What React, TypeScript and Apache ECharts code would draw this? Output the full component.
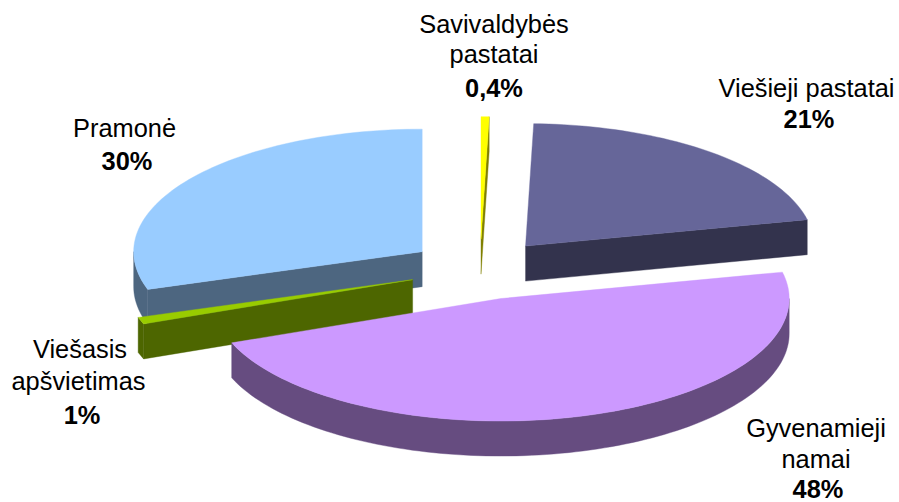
import React, { useEffect, useRef } from "react";
import * as echarts from "echarts";

// Slice order clockwise from 12 o'clock, as in the source chart
const categories = ["Savivaldybės pastatai", "Viešieji pastatai", "Gyvenamieji namai", "Viešasis apšvietimas", "Pramonė"];
const values = [0.45, 21.1, 47.6, 0.9, 30.0];
const percentLabels = ["0,4%", "21%", "48%", "1%", "30%"];
const topColors = ["#FFFF00", "#666699", "#CC99FF", "#99CC00", "#99CCFF"];
const wallColors = ["#808000", "#33334D", "#664C80", "#4D6600", "#4D6680"];

// Projection of the tilted, exploded pie
const CX = 480, CY = 269.5, RX = 288.5, RY = 122.5, DEPTH = 35, EXPLODE = 71.5;
const FONT = '25.4px "Liberation Sans", Arial, sans-serif';
const FONT_BOLD = 'bold 25.4px "Liberation Sans", Arial, sans-serif';

// Label line layout: text, x centre, y centre, bold
const labelLines: [string, number, number, boolean][] = [
  ["Savivaldybės", 494, 24, false],
  ["pastatai", 494, 54, false],
  [percentLabels[0], 494, 88, true],
  ["Viešieji pastatai", 806.5, 88, false],
  [percentLabels[1], 809, 119, true],
  ["Gyvenamieji", 816, 428, false],
  ["namai", 816, 459, false],
  [percentLabels[2], 818, 489, true],
  ["Viešasis", 80, 349, false],
  ["apšvietimas", 78.5, 381, false],
  [percentLabels[3], 82, 415, true],
  ["Pramonė", 124.5, 128, false],
  [percentLabels[4], 127, 161, true],
];

const total = values.reduce((a, b) => a + b, 0);
const slices = (() => {
  let acc = -90;
  return values.map((v, i) => {
    const a = acc;
    const b = acc + (v / total) * 360;
    acc = b;
    const mid = ((a + b) / 2) * (Math.PI / 180);
    return {
      i,
      a,
      b,
      cx: CX + EXPLODE * Math.cos(mid),
      cy: CY + EXPLODE * Math.sin(mid) * (RY / RX),
    };
  });
})();
// Painter's order: farthest slice first
const drawOrder = [...slices].sort((p, q) => p.cy - q.cy);

const pt = (s: any, deg: number, dy = 0): number[] => {
  const t = (deg * Math.PI) / 180;
  return [s.cx + RX * Math.cos(t), s.cy + RY * Math.sin(t) + dy];
};
const arc = (s: any, from: number, to: number, dy = 0): number[][] => {
  const n = Math.max(1, Math.ceil((to - from) / 1.5));
  const out: number[][] = [];
  for (let k = 0; k <= n; k++) out.push(pt(s, from + ((to - from) * k) / n, dy));
  return out;
};
const poly = (points: number[][], color: string) => ({
  type: "polygon",
  shape: { points },
  style: { fill: color, stroke: color, lineWidth: 0.4 },
});

function renderSlice(params: any) {
  const s = drawOrder[params.dataIndex];
  const wall = wallColors[s.i];
  const children: any[] = [];
  const radial = (deg: number) => {
    const p = pt(s, deg);
    children.push(poly([[s.cx, s.cy], p, [p[0], p[1] + DEPTH], [s.cx, s.cy + DEPTH]], wall));
  };
  if (Math.cos((s.a * Math.PI) / 180) < -1e-6) radial(s.a);
  if (Math.cos((s.b * Math.PI) / 180) > 1e-6) radial(s.b);
  const from = Math.max(s.a, 0);
  const to = Math.min(s.b, 180);
  if (to > from) {
    children.push(poly([...arc(s, from, to), ...arc(s, from, to, DEPTH).reverse()], wall));
  }
  children.push(poly([[s.cx, s.cy], ...arc(s, s.a, s.b)], topColors[s.i]));
  return { type: "group", children };
}

export default function App() {
  const ref = useRef<HTMLDivElement>(null);
  useEffect(() => {
    document.body.style.margin = "0";
    const chart = echarts.init(ref.current!, undefined, { renderer: "svg" });
    chart.setOption({
      animation: false,
      backgroundColor: "#fff",
      series: [
        {
          type: "custom",
          coordinateSystem: "none",
          silent: true,
          renderItem: renderSlice,
          data: drawOrder.map((s) => ({ name: categories[s.i], value: values[s.i] })),
        },
      ],
      graphic: {
        elements: labelLines.map(([text, x, y, bold]) => ({
          type: "text",
          x,
          y,
          silent: true,
          style: {
            text,
            fill: "#000",
            font: bold ? FONT_BOLD : FONT,
            textAlign: "center",
            textVerticalAlign: "middle",
          },
        })),
      },
    });
    return () => chart.dispose();
  }, []);
  return <div ref={ref} style={{ width: 899, height: 502 }} />;
}
